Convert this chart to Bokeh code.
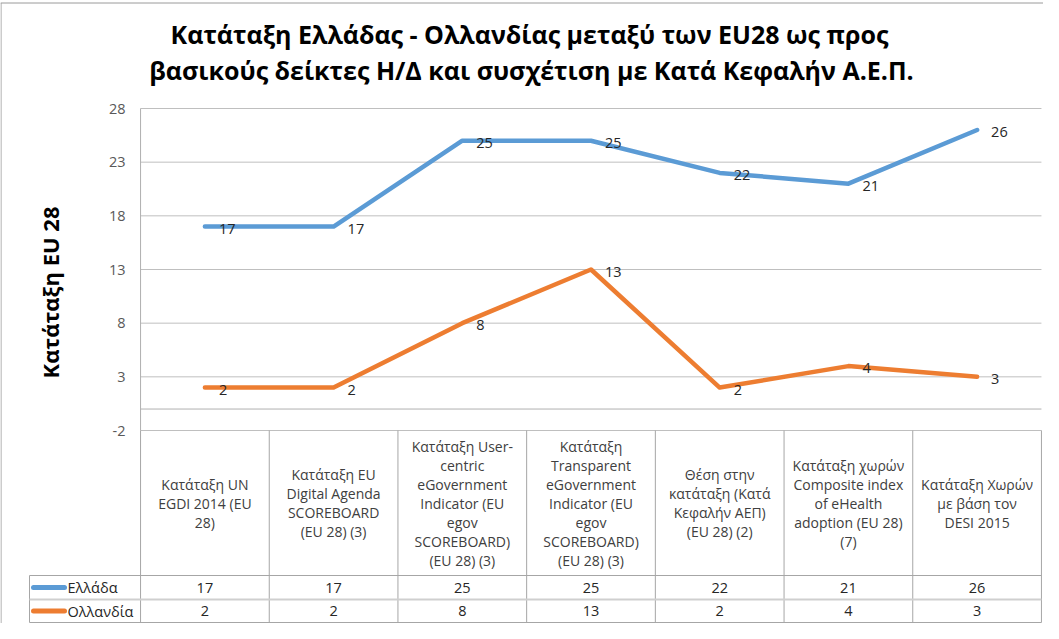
from bokeh.plotting import figure
from bokeh.models import Range1d, ColumnDataSource
from bokeh.core.properties import value
from bokeh.embed import file_html
from bokeh.resources import INLINE
import math

# ---------------- data ----------------
title_lines = ["Κατάταξη Ελλάδας - Ολλανδίας μεταξύ των EU28 ως προς",
               "βασικούς δείκτες Η/Δ και συσχέτιση με Κατά Κεφαλήν Α.Ε.Π."]
y_label = "Κατάταξη EU 28"
categories = [
    "Κατάταξη UN\nEGDI 2014 (EU\n28)",
    "Κατάταξη EU\nDigital Agenda\nSCOREBOARD\n(EU 28) (3)",
    "Κατάταξη User-\ncentric\neGovernment\nIndicator (EU\negov\nSCOREBOARD)\n(EU 28) (3)",
    "Κατάταξη\nTransparent\neGovernment\nIndicator (EU\negov\nSCOREBOARD)\n(EU 28) (3)",
    "Θέση στην\nκατάταξη (Κατά\nΚεφαλήν ΑΕΠ)\n(EU 28) (2)",
    "Κατάταξη χωρών\nComposite index\nof eHealth\nadoption (EU 28)\n(7)",
    "Κατάταξη Χωρών\nμε βάση τον\nDESI 2015",
]
series_names = ["Ελλάδα", "Ολλανδία"]
greece = [17, 17, 25, 25, 22, 21, 26]
netherlands = [2, 2, 8, 13, 2, 4, 3]
y_ticks = [-2, 3, 8, 13, 18, 23, 28]
y_min, y_max = -2, 28
colors = ["#5B9BD5", "#ED7D31"]

# ---------------- layout helpers (page pixels -> data) ----------------
W, H = 1043, 623
PX_X = 128.7           # pixels per category
X0_PAGE = 212.4        # page x of first category
PX_Y = 322 / 30.0      # pixels per y unit
Y28_PAGE = 116         # page y of y=28

def xp(page_x):
    return (page_x - X0_PAGE) / PX_X

def yp(page_y):
    return y_max - (page_y - Y28_PAGE) / PX_Y

n = len(categories)
xs = list(range(n))
FONT = "Open Sans"

p = figure(width=W, height=H, output_backend="svg", toolbar_location=None,
           x_range=Range1d(xp(8), xp(8 + W)), y_range=Range1d(yp(8 + H), yp(8)),
           min_border=0, x_axis_location=None, y_axis_location=None)
p.grid.visible = False
p.outline_line_color = None
p.background_fill_color = "white"
p.border_fill_color = "white"

left, right = -0.5, n - 0.5

# outer chart border (top and left visible)
p.segment(x0=[xp(8), xp(8.5)], y0=[yp(10.5), yp(10.5)],
          x1=[xp(8 + W), xp(8.5)], y1=[yp(10.5), yp(8 + H)],
          line_color="#9A9A9A", line_width=1)

# gridlines
p.segment(x0=[left] * len(y_ticks), y0=y_ticks, x1=[right] * len(y_ticks), y1=y_ticks,
          line_color="#BFBFBF", line_width=1)
# category axis at 0
p.segment(x0=[left], y0=[0], x1=[right], y1=[0], line_color="#B0B0B0", line_width=1)
# value axis line
p.segment(x0=[left], y0=[y_min], x1=[left], y1=[y_max], line_color="#B0B0B0", line_width=1)

# tick labels
p.text(x=[xp(133)] * len(y_ticks), y=y_ticks, text=[str(t) for t in y_ticks],
       text_align="right", text_baseline="middle", text_font=value(FONT),
       text_font_size="14.5px", text_color="#595959")

# y label
p.text(x=[xp(57)], y=[yp(300)], text=[y_label], angle=math.pi / 2,
       text_align="center", text_baseline="middle", text_font=value(FONT),
       text_font_size="22px", text_font_style="bold", text_color="#000000")

# title
p.text(x=[xp(537), xp(539)], y=[yp(41), yp(77)], text=title_lines,
       text_align="center", text_baseline="middle", text_font=value(FONT),
       text_font_size="25px", text_font_style="bold", text_color="#000000")

# series lines + labels
for vals, col in zip([greece, netherlands], colors):
    src = ColumnDataSource(dict(x=xs, y=vals, t=[str(v) for v in vals]))
    p.line("x", "y", source=src, line_color=col, line_width=4.5,
           line_join="round", line_cap="round")
    p.text("x", "y", text="t", source=src, x_offset=14, y_offset=2,
           text_align="left", text_baseline="middle", text_font=value(FONT),
           text_font_size="14.5px", text_color="#262626")

# ---------------- data table ----------------
hdr_top, hdr_bot, row1_bot, row2_bot = 438, 583, 607, 630
leg_left = 37
lc = "#A6A6A6"
# vertical column lines
vx = [i - 0.5 for i in range(n + 1)]
p.segment(x0=vx, y0=[yp(hdr_top)] * len(vx), x1=vx, y1=[yp(row2_bot)] * len(vx),
          line_color=lc, line_width=1)
# legend column left border
p.segment(x0=[xp(leg_left)], y0=[yp(hdr_bot)], x1=[xp(leg_left)], y1=[yp(row2_bot)],
          line_color=lc, line_width=1)
# horizontal lines
p.segment(x0=[xp(leg_left), xp(leg_left)], y0=[yp(hdr_bot), yp(row2_bot)],
          x1=[right, right], y1=[yp(hdr_bot), yp(row2_bot)],
          line_color=lc, line_width=1)
p.segment(x0=[xp(leg_left)], y0=[yp(row1_bot)], x1=[right], y1=[yp(row1_bot)],
          line_color="#CFCFCF", line_width=2)

# category labels
p.text(x=xs, y=[yp((hdr_top + hdr_bot) / 2)] * n, text=categories,
       text_align="center", text_baseline="middle", text_font=value(FONT),
       text_font_size="14px", text_color="#404040", text_line_height=1.0)

# rows
row_centers = [yp((hdr_bot + row1_bot) / 2), yp((row1_bot + row2_bot) / 2)]
for vals, col, name, yc in zip([greece, netherlands], colors, series_names, row_centers):
    p.text(x=xs, y=[yc] * n, text=[str(v) for v in vals], text_align="center",
           text_baseline="middle", text_font=value(FONT), text_font_size="14.5px",
           text_color="#262626")
    p.segment(x0=[xp(41)], y0=[yc], x1=[xp(72)], y1=[yc], line_color=col,
              line_width=5, line_cap="round")
    p.text(x=[xp(75)], y=[yc], text=[name], text_align="left", text_baseline="middle",
           text_font=value(FONT), text_font_size="14.5px", text_color="#262626")

open("out.html", "w").write(file_html(p, INLINE))
